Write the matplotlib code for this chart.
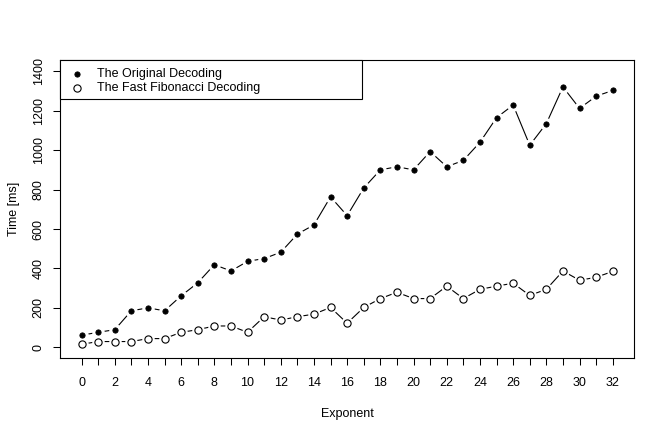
import matplotlib
matplotlib.use("Agg")
import matplotlib.pyplot as plt
from matplotlib.patches import Rectangle
import numpy as np

exponent = list(range(33))
original = [61, 76, 89, 185, 200, 185, 261, 327, 419, 387, 436, 450, 482, 574, 621, 763, 668,
            808, 900, 916, 900, 993, 916, 948, 1040, 1165, 1229, 1025, 1135, 1321, 1212, 1274, 1303]
fast = [15, 29, 29, 29, 44, 44, 76, 89, 108, 108, 76, 155, 138, 155, 168, 202, 122,
        202, 247, 279, 247, 247, 310, 247, 294, 310, 325, 263, 294, 387, 340, 355, 385]
series_labels = ["The Original Decoding", "The Fast Fibonacci Decoding"]
y_ticks = [0, 200, 400, 600, 800, 1000, 1200, 1400]

plt.rcParams['font.family'] = ['Liberation Sans', 'DejaVu Sans']
W, H = 664, 434
fig = plt.figure(figsize=(W/100, H/100), dpi=100)
ax = fig.add_axes([60.3/W, 1-358.3/H, (634-60.3)/W, (358.3-60.3)/H])

lw = 0.8
ax.plot(exponent, original, color='black', lw=lw, zorder=1)
ax.plot(exponent, fast, color='black', lw=lw, zorder=1)
ax.plot(exponent, original, ls='none', marker='o', ms=8.0, mfc='white', mec='white', zorder=2)
ax.plot(exponent, fast, ls='none', marker='o', ms=8.0, mfc='white', mec='white', zorder=2)
ax.plot(exponent, original, ls='none', marker='o', ms=3.8, mfc='black', mec='black', mew=0.6, zorder=3)
ax.plot(exponent, fast, ls='none', marker='o', ms=5.2, mfc='white', mec='black', mew=0.8, zorder=3)

ax.set_xlim(-1.28, 33.28)
ax.set_ylim(-56, 1456)
ax.set_xticks(exponent)
ax.set_xticklabels([str(e) if e % 2 == 0 else '' for e in exponent])
ax.set_yticks(y_ticks)
ax.set_yticklabels([str(v) for v in y_ticks], rotation=90, va='center')
ax.tick_params(axis='both', length=5.3, width=0.75, labelsize=9, direction='out')
ax.tick_params(axis='x', pad=8)
ax.tick_params(axis='y', pad=6)
for s in ax.spines.values():
    s.set_linewidth(0.8)
ax.set_xlabel('Exponent', fontsize=9, labelpad=14)
ax.set_ylabel('Time [ms]', fontsize=9, labelpad=9)

# R-style legend box (figure pixel coordinates -> figure fraction)
def fx(px):
    return px / W
def fy(py):
    return 1 - py / H
fig.add_artist(Rectangle((fx(60.3), fy(99)), fx(362) - fx(60.3), fy(60.3) - fy(99),
                         transform=fig.transFigure, fill=True, facecolor='white',
                         edgecolor='black', lw=0.8, zorder=5))
rows = [74, 88]
styles = [dict(mfc='black', mec='black', ms=3.8, mew=0.6), dict(mfc='white', mec='black', ms=5.2, mew=0.8)]
for lab, ry, st in zip(series_labels, rows, styles):
    fig.add_artist(plt.Line2D([fx(77)], [fy(ry)], transform=fig.transFigure, marker='o',
                              ls='none', zorder=6, **st))
    fig.text(fx(97), fy(ry), lab, fontsize=9, va='center', ha='left', zorder=6)

fig.savefig('out.png', dpi=100)
